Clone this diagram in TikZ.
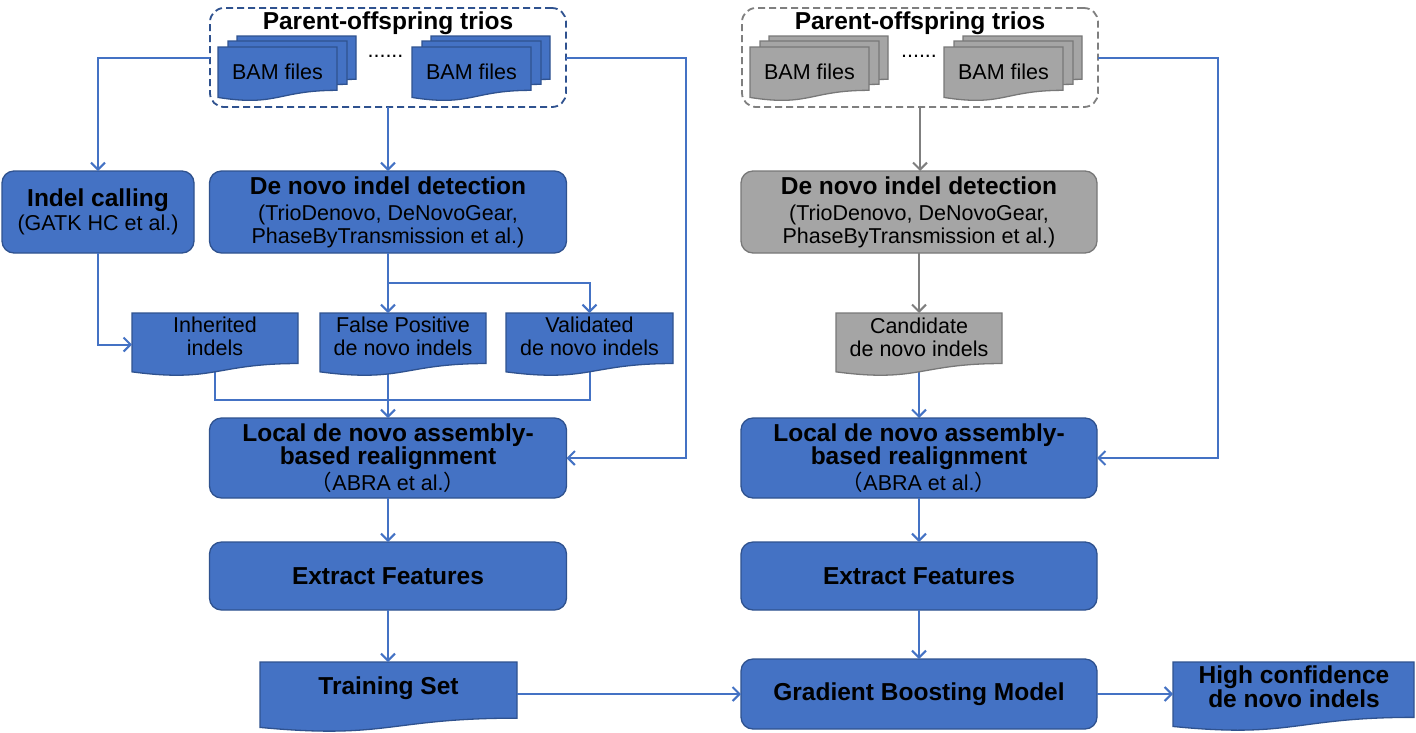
\documentclass[tikz,border=0pt]{standalone}
\usepackage{fontspec}
\setmainfont{Liberation Sans}
\newfontfamily\cjk{Noto Sans CJK SC}
\usetikzlibrary{arrows.meta,calc,backgrounds}
\definecolor{bfill}{HTML}{4472C4}
\definecolor{bdraw}{HTML}{2F528F}
\definecolor{gfill}{HTML}{A5A5A5}
\definecolor{gdraw}{HTML}{787878}
\definecolor{gline}{HTML}{7F7F7F}
\newcommand\bigf{\fontsize{24.5}{24.5}\selectfont\bfseries}
\newcommand\tightf{\fontsize{24.5}{21.5}\selectfont\bfseries}
\newcommand\smallf{\fontsize{21.5}{23}\selectfont}
\newcommand\docshape[5]{%
  \path[#1] (#2,#3) -- (#4,#3) -- (#4,{#3+0.802*(#5-#3)})
    .. controls ({(#2+#4)/2},{#3+0.802*(#5-#3)}) and ({(#2+#4)/2},{#3+1.108*(#5-#3)}) .. (#2,{#3+0.934*(#5-#3)}) -- cycle;}
\tikzset{
  every node/.style={inner sep=0pt, outer sep=0pt},
  area/.style={draw=none, fill=none},
  txt/.style={align=center, font=\smallf, text=black},
  btxt/.style={align=center, font=\bigf, text=black},
  rbox/.style={rounded corners=12pt, fill=bfill, draw=bdraw, line width=1.3pt, align=center, font=\smallf},
  gbox/.style={rbox, fill=gfill, draw=gdraw},
  bdoc/.style={fill=bfill, draw=bdraw, line width=1.3pt},
  gdoc/.style={fill=gfill, draw=gdraw, line width=1.3pt},
  trio/.style={rounded corners=14pt, draw=bdraw, line width=1.8pt, dash pattern=on 7pt off 4pt, fill=none},
  conn/.style={draw=bfill, line width=2pt},
  arr/.style={conn, -{Straight Barb[length=7pt,width=14pt]}},
  garr/.style={arr, draw=gline},
}
\begin{document}
\begin{tikzpicture}[x=1pt,y=-1pt]
\useasboundingbox (0,0) rectangle (1416,732);
\begin{pgfonlayer}{background}
\fill[white] (0,0) rectangle (1416,732);
\end{pgfonlayer}

% ---------- left trios box ----------
\node[trio, minimum width=356pt, minimum height=99pt] (trios1) at (388,57.5) {};
\node[btxt] (title1) at (388,23.5) {Parent-offspring trios};
\docshape{bdoc, shift={(19,-11)}}{218}{47}{337}{101}
\docshape{bdoc, shift={(10,-6)}}{218}{47}{337}{101}
\docshape{bdoc}{218}{47}{337}{101}
\node[area, minimum width=119pt, minimum height=54pt] (bamA) at (277.5,74) {};
\node[txt] (bamAt) at (277.5,72) {BAM files};
\docshape{bdoc, shift={(19,-11)}}{412}{47}{531}{101}
\docshape{bdoc, shift={(10,-6)}}{412}{47}{531}{101}
\docshape{bdoc}{412}{47}{531}{101}
\node[area, minimum width=119pt, minimum height=54pt] (bamB) at (471.5,74) {};
\node[txt] (bamBt) at (471.5,72) {BAM files};
\node[txt, anchor=base] (dots1) at (385.5,57) {......};

% ---------- right trios box ----------
\node[trio, draw=gline, minimum width=356pt, minimum height=99pt] (trios2) at (920,57.5) {};
\node[btxt] (title2) at (920,23.5) {Parent-offspring trios};
\docshape{gdoc, shift={(19,-11)}}{750}{47}{869}{101}
\docshape{gdoc, shift={(10,-6)}}{750}{47}{869}{101}
\docshape{gdoc}{750}{47}{869}{101}
\node[area, minimum width=119pt, minimum height=54pt] (bamC) at (809.5,74) {};
\node[txt] (bamCt) at (809.5,72) {BAM files};
\docshape{gdoc, shift={(19,-11)}}{944}{47}{1063}{101}
\docshape{gdoc, shift={(10,-6)}}{944}{47}{1063}{101}
\docshape{gdoc}{944}{47}{1063}{101}
\node[area, minimum width=119pt, minimum height=54pt] (bamD) at (1003.5,74) {};
\node[txt] (bamDt) at (1003.5,72) {BAM files};
\node[txt, anchor=base] (dots2) at (919,57) {......};

% ---------- left column boxes ----------
\node[rbox, minimum width=192pt, minimum height=82pt] (ic) at (98,212)
  {{\bigf Indel calling}\\[1pt](GATK HC et al.)};
\node[rbox, minimum width=357pt, minimum height=82pt] (dn1) at (388,212)
  {{\bigf De novo indel detection}\\[3pt](TrioDenovo, DeNovoGear,\\PhaseByTransmission et al.)};

\docshape{bdoc}{132}{313}{298}{376}
\node[area, minimum width=166pt, minimum height=63pt] (inh) at (215,344.5) {};
\node[txt] (inht) at (215,336) {Inherited\\indels};
\docshape{bdoc}{320}{313}{486}{376}
\node[area, minimum width=166pt, minimum height=63pt] (fp) at (403,344.5) {};
\node[txt] (fpt) at (403,336) {False Positive\\de novo indels};
\docshape{bdoc}{506}{313}{673}{376}
\node[area, minimum width=167pt, minimum height=63pt] (val) at (589.5,344.5) {};
\node[txt] (valt) at (589.5,336) {Validated\\de novo indels};

\node[rbox, minimum width=357pt, minimum height=80pt] (loc1) at (388,458)
  {{\bigf Local de novo assembly-}\\{\bigf based realignment}\\[1pt]{\cjk （}ABRA et al.{\cjk ）}};
\node[rbox, minimum width=357pt, minimum height=68pt, font=\bigf] (ef1) at (388,576) {Extract Features};

\docshape{bdoc}{260}{662}{517}{732}
\node[area, minimum width=257pt, minimum height=70pt] (ts) at (388.5,697) {};
\node[btxt] (tst) at (388.5,688.5) {Training Set};

% ---------- right column boxes ----------
\node[gbox, minimum width=356pt, minimum height=82pt] (dn2) at (919,212)
  {{\bigf De novo indel detection}\\[3pt](TrioDenovo, DeNovoGear,\\PhaseByTransmission et al.)};
\docshape{gdoc}{836}{313}{1002}{376}
\node[area, minimum width=166pt, minimum height=63pt] (cand) at (919,344.5) {};
\node[txt] (candt) at (919,337) {Candidate\\de novo indels};
\node[rbox, minimum width=356pt, minimum height=80pt] (loc2) at (919,458)
  {{\bigf Local de novo assembly-}\\{\bigf based realignment}\\[1pt]{\cjk （}ABRA et al.{\cjk ）}};
\node[rbox, minimum width=356pt, minimum height=68pt, font=\bigf] (ef2) at (919,576) {Extract Features};
\node[rbox, minimum width=356pt, minimum height=70pt, font=\bigf] (gbm) at (919,694) {Gradient Boosting Model};

\docshape{bdoc}{1173}{662}{1414}{731}
\node[area, minimum width=241pt, minimum height=69pt] (hc) at (1293.5,696.5) {};
\node[align=center, font=\tightf, text=black] (hct) at (1294,687) {High confidence\\de novo indels};

% ---------- connectors ----------
\coordinate (c1) at (686,458);
\coordinate (c2) at (1218,458);
\coordinate (br) at (388,283);
\coordinate (bus) at (388,400);

\draw[arr] (trios1.west) -| (ic.north);
\draw[arr] (trios1.south) -- (dn1.north);
\draw[arr] (trios1.east) -| (c1) -- (loc1.east);
\draw[arr] (ic.south) |- (inh.west);
\draw[conn] (dn1.south) -- (br);
\draw[arr] (br) -- (br |- fp.north);
\draw[arr] (br) -| (val.north);
\begin{pgfonlayer}{background}
\draw[conn] (inh.center) |- (bus) -| (val.center);
\draw[conn] (bus |- fp.center) -- (bus);
\draw[arr] (cand.center) -- (loc2.north);
\end{pgfonlayer}
\draw[arr] (bus) -- (loc1.north);
\draw[arr] (loc1.south) -- (ef1.north);
\draw[arr] (ef1.south) -- (ef1.south |- ts.north);
\draw[arr] (ts.east |- gbm.west) -- (gbm.west);

\draw[garr] (trios2.south) -- (trios2.south |- dn2.north);
\draw[garr] (dn2.south) -- (cand.north);
\draw[arr] (trios2.east) -| (c2) -- (loc2.east);
\draw[arr] (loc2.south) -- (ef2.north);
\draw[arr] (ef2.south) -- (gbm.north);
\draw[arr] (gbm.east) -- (gbm.east -| hc.west);
\end{tikzpicture}
\end{document}
